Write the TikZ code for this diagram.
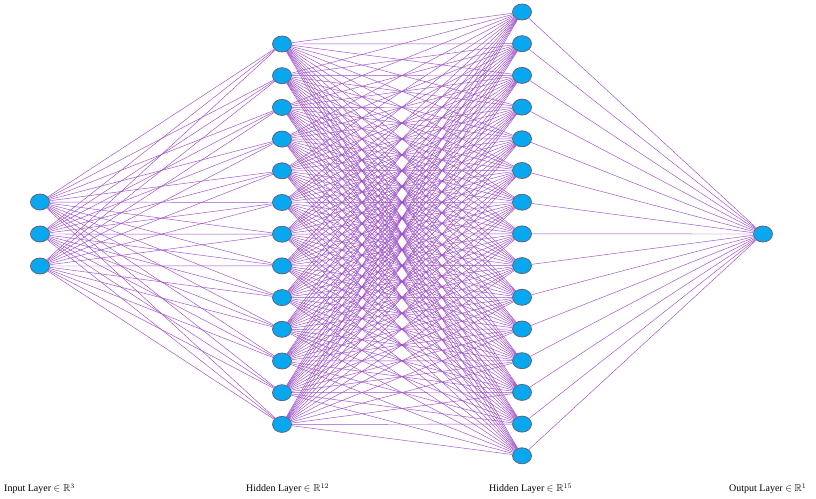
\documentclass[tikz,border=0pt]{standalone}
\usepackage{amssymb}
\usepackage{fontspec}
\setmainfont{Liberation Serif}
\usetikzlibrary{shapes.geometric,backgrounds}
\definecolor{neuronblue}{RGB}{8,168,240}
\definecolor{neuronrim}{RGB}{95,100,125}
\definecolor{synapse}{RGB}{155,75,200}
\begin{document}
\begin{tikzpicture}[x=1pt,y=-1pt,
  neuron/.style={ellipse, draw=neuronrim, line width=0.8pt, fill=neuronblue, minimum width=19pt, minimum height=16pt, inner sep=0pt},
  link/.style={draw=synapse, line width=0.45pt},
  layername/.style={anchor=west, font=\fontsize{10}{12}\selectfont, inner sep=0pt}]
  \useasboundingbox (0,0) rectangle (816,498);
  % layers
  \foreach \i in {1,...,3} \node[neuron] (in\i) at (40,{170+32*\i}) {};
  \foreach \i in {1,...,13} \node[neuron] (hA\i) at (282,{12.3+31.7*\i}) {};
  \foreach \i in {1,...,15} \node[neuron] (hB\i) at (522,{-19.7+31.7*\i}) {};
  \node[neuron] (out) at (763,234) {};
  % connections
  \begin{scope}[on background layer]
    \foreach \i in {1,...,3} \foreach \j in {1,...,13} \draw[link] (in\i) -- (hA\j);
    \foreach \i in {1,...,13} \foreach \j in {1,...,15} \draw[link] (hA\i) -- (hB\j);
    \foreach \j in {1,...,15} \draw[link] (hB\j) -- (out);
  \end{scope}
  % labels
  \node[layername] (lin) at (4,489) {Input Layer $\in \mathbb{R}^{3}$};
  \node[layername] (lhA) at (246,489) {Hidden Layer $\in \mathbb{R}^{12}$};
  \node[layername] (lhB) at (489,489) {Hidden Layer $\in \mathbb{R}^{15}$};
  \node[layername] (lout) at (729,489) {Output Layer $\in \mathbb{R}^{1}$};
\end{tikzpicture}
\end{document}
